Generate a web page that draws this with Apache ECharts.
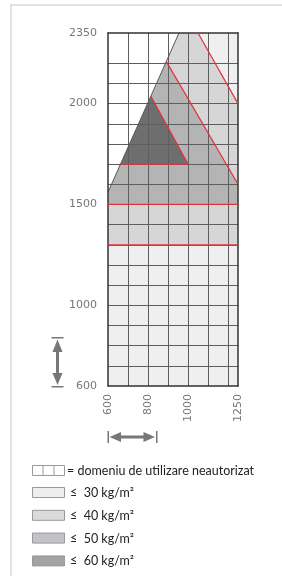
<!DOCTYPE html>
<html style="height: 100%">
<head>
    <meta charset="UTF-8">
    <script type="text/javascript" src="https://cdn.jsdelivr.net/npm/echarts@6/dist/echarts.min.js"></script>
</head>
<body style="height: 100%; margin: 0; background: #fff">
    <div id="container" style="width: 282px; height: 578px;"></div>

    <script type="text/javascript">
        // axes (mm)
        var xLabels = [600, 800, 1000, 1250];
        var yLabels = [600, 1000, 1500, 2000, 2350];
        var xGrid = [700, 800, 900, 1000, 1100, 1200];
        var yGrid = [700, 800, 900, 1000, 1100, 1200, 1300, 1400, 1500, 1600, 1700, 1800, 1900, 2000, 2100, 2200];

        // load zones, polygons of [width, height]
        var zone30 = [
            [[600, 600], [1250, 600], [1250, 1300], [600, 1300]],
            [[1050, 2350], [1250, 2350], [1250, 2000]]
        ];
        var zone40 = [
            [[600, 1300], [1250, 1300], [1250, 1500], [600, 1500]],
            [[892, 2208], [955, 2350], [1050, 2350], [1250, 2000], [1250, 1600]]
        ];
        var zone50 = [
            [[600, 1500], [1250, 1500], [1250, 1600], [892, 2208], [600, 1561]]
        ];
        var zone60 = [
            [[663, 1700], [1000, 1700], [815, 2035]]
        ];
        var boundary = [[600, 1561], [955, 2350]];
        var redLines = [
            [[600, 1300], [1250, 1300]],
            [[600, 1500], [1250, 1500]],
            [[1050, 2350], [1250, 2000]],
            [[892, 2208], [1250, 1600]],
            [[663, 1700], [1000, 1700], [815, 2035]]
        ];

        var legendItems = ['≤  30 kg/m²', '≤  40 kg/m²', '≤  50 kg/m²', '≤  60 kg/m²'];
        var legendColors = ['#eeeeee', '#dadada', '#c3c3c7', '#a3a3a7'];

        function zoneSeries(name, polys, color) {
            return {
                type: 'custom',
                name: name,
                silent: true,
                z: 1,
                data: polys.map(function (p, i) { return [i]; }),
                renderItem: function (params, api) {
                    var pts = polys[params.dataIndex].map(function (p) { return api.coord(p); });
                    return { type: 'polygon', shape: { points: pts }, style: { fill: color } };
                }
            };
        }

        var series = [
            zoneSeries('30', zone30, '#efefef'),
            zoneSeries('40', zone40, '#d6d6d6'),
            zoneSeries('50', zone50, '#b4b4b4'),
            zoneSeries('60', zone60, '#6e6e6e'),
            {
                type: 'line',
                data: [[600, 600]],
                symbol: 'none',
                silent: true,
                z: 2,
                lineStyle: { opacity: 0 },
                markLine: {
                    silent: true,
                    symbol: 'none',
                    animation: false,
                    z: 2,
                    label: { show: false },
                    lineStyle: { color: '#5e5e5e', width: 1, type: 'solid' },
                    data: xGrid.map(function (v) { return { xAxis: v }; })
                        .concat(yGrid.map(function (v) { return { yAxis: v }; }))
                }
            },
            {
                type: 'line',
                data: boundary,
                symbol: 'none',
                silent: true,
                z: 3,
                lineStyle: { color: '#555', width: 1 }
            }
        ];
        redLines.forEach(function (l) {
            series.push({
                type: 'line',
                data: l,
                symbol: 'none',
                silent: true,
                z: 10,
                lineStyle: { color: '#e3303e', width: 1.2 }
            });
        });

        // legend boxes + texts
        var graphic = [
            { type: 'line', shape: { x1: 10, y1: 5, x2: 282, y2: 5 }, style: { stroke: '#d8d8d8', lineWidth: 1.5 } },
            { type: 'line', shape: { x1: 11, y1: 5, x2: 11, y2: 576 }, style: { stroke: '#d8d8d8', lineWidth: 1.5 } },
            { type: 'rect', shape: { x: 32.5, y: 465.5, width: 32, height: 10 }, style: { fill: '#fff', stroke: '#999', lineWidth: 1 } },
            { type: 'line', shape: { x1: 43, y1: 465.5, x2: 43, y2: 475.5 }, style: { stroke: '#999', lineWidth: 1 } },
            { type: 'line', shape: { x1: 54, y1: 465.5, x2: 54, y2: 475.5 }, style: { stroke: '#999', lineWidth: 1 } },
            { type: 'text', x: 67, y: 471, style: { text: '= domeniu de utilizare neautorizat', fill: '#222', font: '12.5px Lato', verticalAlign: 'middle' } }
        ];
        legendItems.forEach(function (t, i) {
            var y = 487.5 + i * 22.8;
            graphic.push({ type: 'rect', shape: { x: 32.5, y: y, width: 32, height: 10 }, style: { fill: legendColors[i], stroke: '#999', lineWidth: 1 } });
            graphic.push({ type: 'text', x: 70, y: y + 5.5, style: { text: t, fill: '#222', font: '12.5px Lato', verticalAlign: 'middle' } });
        });

        // double arrows
        var ac = '#777';
        graphic.push(
            { type: 'rect', shape: { x: 51.5, y: 337, width: 12, height: 1.5 }, style: { fill: ac } },
            { type: 'rect', shape: { x: 51.5, y: 386, width: 12, height: 1.5 }, style: { fill: ac } },
            { type: 'rect', shape: { x: 56, y: 348, width: 3, height: 29 }, style: { fill: ac } },
            { type: 'polygon', shape: { points: [[57.5, 339.5], [52.5, 352], [62.5, 352]] }, style: { fill: ac } },
            { type: 'polygon', shape: { points: [[57.5, 385], [52.5, 373], [62.5, 373]] }, style: { fill: ac } },
            { type: 'rect', shape: { x: 107.5, y: 431, width: 1.5, height: 12 }, style: { fill: ac } },
            { type: 'rect', shape: { x: 156, y: 431, width: 1.5, height: 12 }, style: { fill: ac } },
            { type: 'rect', shape: { x: 118, y: 435.5, width: 28, height: 3 }, style: { fill: ac } },
            { type: 'polygon', shape: { points: [[109.5, 437], [121, 432], [121, 442]] }, style: { fill: ac } },
            { type: 'polygon', shape: { points: [[155, 437], [143.5, 432], [143.5, 442]] }, style: { fill: ac } }
        );

        function plain(v) { return String(v); }
        var labelStyle = { color: '#777', fontFamily: 'DejaVu Sans', fontSize: 11, formatter: plain };
        var dom = document.getElementById('container');
        var myChart = echarts.init(dom);
        var option = {
            animation: false,
            grid: { left: 108, top: 33, width: 130, height: 353, show: false },
            xAxis: [{
                type: 'value', min: 600, max: 1250, z: 5,
                axisLine: { show: true, lineStyle: { color: '#333', width: 1.5 } },
                axisTick: { show: false },
                splitLine: { show: false },
                axisLabel: Object.assign({ customValues: xLabels, rotate: 90, margin: 8 }, labelStyle)
            }, {
                type: 'value', min: 600, max: 1250, position: 'top', z: 5,
                axisLine: { show: true, onZero: false, lineStyle: { color: '#333', width: 1.5 } },
                axisTick: { show: false }, axisLabel: { show: false }, splitLine: { show: false }
            }],
            yAxis: [{
                type: 'value', min: 600, max: 2350, z: 5,
                axisLine: { show: true, lineStyle: { color: '#333', width: 1.5 } },
                axisTick: { show: false },
                splitLine: { show: false },
                axisLabel: Object.assign({ customValues: yLabels, margin: 11 }, labelStyle)
            }, {
                type: 'value', min: 600, max: 2350, position: 'right', z: 5,
                axisLine: { show: true, onZero: false, lineStyle: { color: '#333', width: 1.5 } },
                axisTick: { show: false }, axisLabel: { show: false }, splitLine: { show: false }
            }],
            graphic: graphic,
            series: series
        };
        myChart.setOption(option);
        window.onresize = function () {
            myChart.resize();
        };
    </script>
</body>
</html>
